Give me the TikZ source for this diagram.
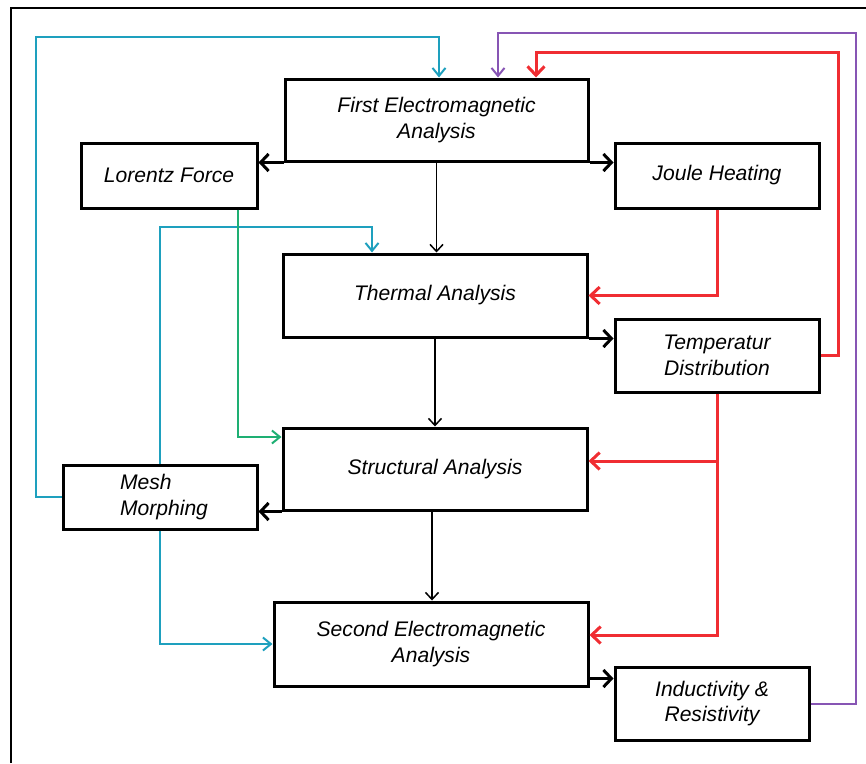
\documentclass[tikz,border=0pt]{standalone}
\usepackage{fontspec}
\setmainfont{Liberation Sans}
\usetikzlibrary{arrows.meta,calc}
\definecolor{cyanl}{RGB}{30,160,190}
\definecolor{greenl}{RGB}{30,175,115}
\definecolor{redl}{RGB}{240,45,50}
\definecolor{purpl}{RGB}{135,85,180}
\tikzset{
  box/.style={draw=black,line width=3pt,rectangle,inner sep=2pt,align=center,
    font=\fontsize{21.1}{25.5}\selectfont\itshape},
  thickarr/.style={line width=3pt,-{Straight Barb[length=8pt,width=17pt,line width=3pt]}},
  thinarr/.style={line width=1.5pt,-{Straight Barb[length=7pt,width=13pt,line width=1.5pt]}},
  redarr/.style={redl,line width=3pt,-{Straight Barb[length=9pt,width=17pt,line width=3pt]}},
  cyanarr/.style={cyanl,line width=2pt,-{Straight Barb[length=8pt,width=13pt,line width=2pt]}},
  greenarr/.style={greenl,line width=2pt,-{Straight Barb[length=8pt,width=13pt,line width=2pt]}},
  purparr/.style={purpl,line width=2pt,-{Straight Barb[length=8pt,width=13pt,line width=2pt]}},
}
\begin{document}
\begin{tikzpicture}[x=1pt,y=-1pt]
\useasboundingbox (0,0) rectangle (866,763);
\draw[line width=2pt] (11,763) -- (11,8) -- (866,8);

\node[box,minimum width=303,minimum height=82] (fem) at (436.5,120) {First Electromagnetic\\Analysis};
\node[box,minimum width=176,minimum height=65] (lor) at (169,175.5) {Lorentz Force};
\node[box,minimum width=204,minimum height=65] (jou) at (717,175.5) {Joule Heating};
\node[box,minimum width=304,minimum height=83] (the) at (435,295.5) {Thermal Analysis};
\node[box,minimum width=204,minimum height=73] (tem) at (717,355.5) {Temperatur\\Distribution};
\node[box,minimum width=304,minimum height=82] (str) at (435,469) {Structural Analysis};
\node[box,minimum width=194,minimum height=64,align=left] (mes) at (160,497) {\hspace*{8pt}Mesh\\\hspace*{8pt}Morphing};
\node[box,minimum width=314,minimum height=84] (sec) at (431,644) {Second Electromagnetic\\Analysis};
\node[box,minimum width=194,minimum height=73] (ind) at (712,703.5) {Inductivity \&\\Resistivity};

% black connectors
\draw[thickarr] (fem.south west) -- (lor.east |- fem.south west);
\draw[thickarr] (fem.south east) -- (jou.west |- fem.south east);
\draw[thinarr] (fem.south) -- (fem.south |- the.north);
\draw[thickarr] (the.south east) -- (tem.west |- the.south east);
\draw[thinarr] (the.south) -- (the.south |- str.north);
\draw[thickarr] (str.south west) -- (mes.east |- str.south west);
\draw[thinarr] (432,0 |- str.south) -- (432,0 |- sec.north);
\coordinate (s2) at ($(sec.south east)+(0,-9)$);
\draw[thickarr] (s2) -- (s2 -| ind.west);

% red connectors
\draw[redarr] (jou.south) |- (the.east);
\draw[redarr] (tem.east) -| (838,52) -| (536,0 |- fem.north);
\draw[redarr] (tem.south) |- (sec.east |- 0,635);
\draw[redarr] (tem.south |- 0,461) -- (str.east |- 0,461);

% purple
\draw[purparr] (ind.east) -| (856,33) -| (498,0 |- fem.north);

% cyan
\draw[cyanarr] (mes.west) -| (36,37) -| (439,0 |- fem.north);
\draw[cyanarr] (mes.north) |- (372,227) -- (372,0 |- the.north);
\draw[cyanarr] (mes.south) |- (sec.west);

% green
\draw[greenarr] (238,0 |- lor.south) |- (str.west |- 0,437);
\end{tikzpicture}
\end{document}
